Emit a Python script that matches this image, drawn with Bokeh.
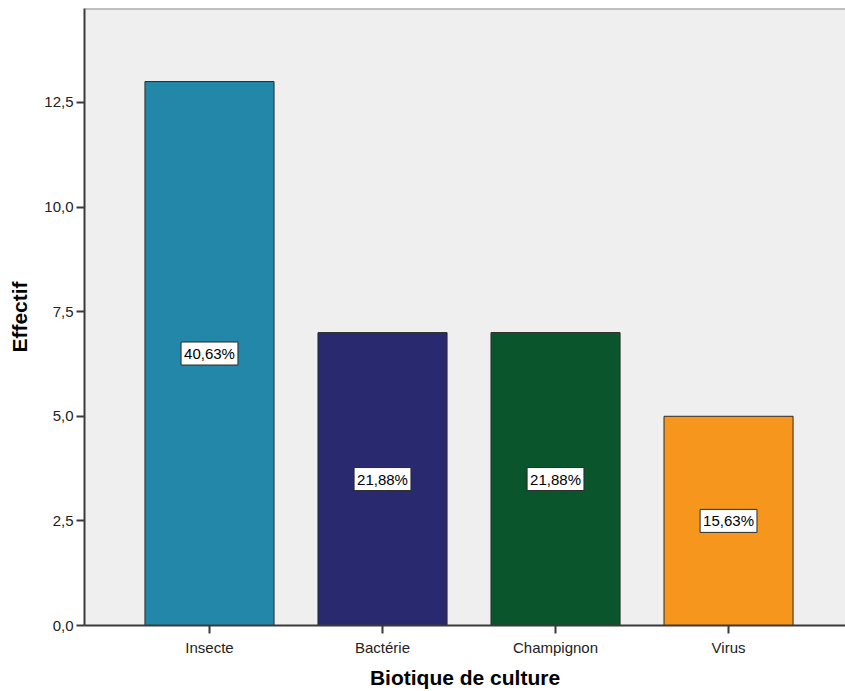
from bokeh.plotting import figure
from bokeh.models import FixedTicker, Range1d, ColumnDataSource, Label, Span
from bokeh.embed import file_html
from bokeh.resources import INLINE

categories = ["Insecte", "Bactérie", "Champignon", "Virus"]
counts = [13, 7, 7, 5]
percent_labels = ["40,63%", "21,88%", "21,88%", "15,63%"]
colors = ["#2387AA", "#29296F", "#0B552C", "#F7961D"]
y_ticks = [0, 2.5, 5, 7.5, 10, 12.5]
y_tick_labels = ["0,0", "2,5", "5,0", "7,5", "10,0", "12,5"]

xs = list(range(len(categories)))
src = ColumnDataSource(dict(x=xs, top=counts, color=colors))

p = figure(width=845, height=691, output_backend="svg", toolbar_location=None,
           x_range=Range1d(-0.7225, 3.676), y_range=Range1d(0, 14.746),
           min_border_left=84, min_border_right=0, min_border_top=8, min_border_bottom=60,
           background_fill_color="#EFEFEF", border_fill_color="white")
p.outline_line_color = None
p.grid.visible = False

p.vbar(x="x", top="top", width=0.746, bottom=0, fill_color="color",
       line_color="#2a2a2a", line_width=1, source=src)

for x, c, lab in zip(xs, counts, percent_labels):
    p.add_layout(Label(x=x, y=c / 2, text=lab, text_align="center",
                       text_baseline="middle", text_font="Liberation Sans",
                       text_font_size="15px", text_color="black",
                       background_fill_color="white", border_line_color="#2a2a2a",
                       border_line_width=1, padding=3))

p.add_layout(Span(location=14.746, dimension="width", line_color="#8a8a8a", line_width=2))

p.xaxis.ticker = FixedTicker(ticks=xs)
p.xaxis.major_label_overrides = {i: c for i, c in enumerate(categories)}
p.yaxis.ticker = FixedTicker(ticks=y_ticks)
p.yaxis.major_label_overrides = {t: l for t, l in zip(y_ticks, y_tick_labels)}
for ax in (p.xaxis, p.yaxis):
    ax.minor_tick_line_color = None
    ax.major_tick_in = 0
    ax.major_tick_out = 8
    ax.axis_line_color = "#3a3a3a"
    ax.axis_line_width = 2
    ax.major_tick_line_color = "#3a3a3a"
    ax.major_tick_line_width = 2
    ax.major_label_text_font = "Liberation Sans"
    ax.major_label_text_font_size = "15px"
    ax.major_label_text_color = "#222222"
    ax.axis_label_text_font = "Liberation Sans"
    ax.axis_label_text_font_style = "bold"
    ax.axis_label_text_font_size = "21px"
    ax.axis_label_text_color = "black"

p.xaxis.axis_label = "Biotique de culture"
p.yaxis.axis_label = "Effectif"
p.xaxis.major_label_standoff = 5
p.xaxis.axis_label_standoff = 7
p.yaxis.major_label_standoff = 3
p.yaxis.axis_label_standoff = 10

open("out.html", "w").write(file_html(p, INLINE))
